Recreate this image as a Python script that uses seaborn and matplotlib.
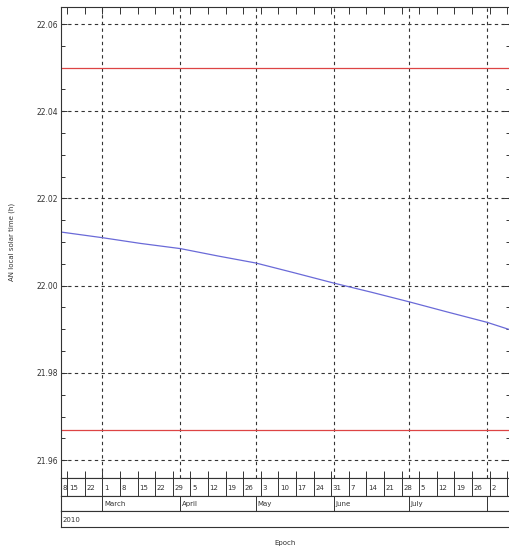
import numpy as np
import pandas as pd
import matplotlib
matplotlib.use("Agg")
import matplotlib.pyplot as plt
import matplotlib.dates as mdates
import seaborn as sns

# ---- data ----
sample_dates = ["2010-02-12 12:00", "2010-03-01 00:00", "2010-03-16 00:00", "2010-04-01 00:00",
                "2010-04-16 00:00", "2010-05-01 00:00", "2010-05-16 00:00", "2010-06-01 00:00",
                "2010-06-16 00:00", "2010-07-01 00:00", "2010-07-16 00:00", "2010-08-01 00:00",
                "2010-08-10 03:00"]
an_lst = [22.0123, 22.0110, 22.0097, 22.0085, 22.0068, 22.0052, 22.0030, 22.0006,
          21.9985, 21.9963, 21.9940, 21.9916, 21.9899]
limit_upper = 22.050
limit_lower = 21.967
y_ticks = [21.96, 21.98, 22.00, 22.02, 22.04, 22.06]
y_tick_labels = ["21.96", "21.98", "22.00", "22.02", "22.04", "22.06"]
month_starts = ["2010-02-01", "2010-03-01", "2010-04-01", "2010-05-01",
                "2010-06-01", "2010-07-01", "2010-08-01"]
month_labels = ["February", "March", "April", "May", "June", "July", "August"]
year_starts = ["2010-01-01"]
year_labels = ["2010"]
week_starts = pd.date_range("2010-02-08", "2010-08-09", freq="W-MON")
week_labels = [str(d.day) for d in week_starts]
x_start = pd.Timestamp("2010-02-12 12:00")
x_end = pd.Timestamp("2010-08-10 03:40")
y_min, y_max = 21.9559, 22.0639

W, H = 510, 549
sns.set_style("white")
plt.rcParams["font.family"] = ["DejaVu Sans"]

fig = plt.figure(figsize=(W / 100, H / 100), dpi=100)

def frac_box(x0, y0, x1, y1):
    return [x0 / W, (H - y1) / H, (x1 - x0) / W, (y1 - y0) / H]

ax = fig.add_axes(frac_box(61, 7, 510, 478))

df = pd.DataFrame({"date": pd.to_datetime(sample_dates, format="%Y-%m-%d %H:%M"), "lst": an_lst})
sns.lineplot(data=df, x="date", y="lst", ax=ax, color="#6a6ad8", linewidth=0.9)

lim_df = pd.DataFrame({"date": [x_start, x_end] * 2,
                       "lst": [limit_upper, limit_upper, limit_lower, limit_lower],
                       "which": ["upper", "upper", "lower", "lower"]})
sns.lineplot(data=lim_df, x="date", y="lst", units="which", estimator=None,
             ax=ax, color="#dd4444", linewidth=0.9)

ax.set_xlabel("")
ax.set_ylabel("")

# month grid lines
for m in pd.to_datetime(month_starts):
    if x_start < m < x_end:
        ax.axvline(m, color="#333333", linestyle=(0, (3, 3)), linewidth=0.8, zorder=0)
ax.set_yticks(y_ticks)
ax.set_yticklabels(y_tick_labels, fontsize=5.5, color="#333333")
ax.yaxis.set_minor_locator(matplotlib.ticker.MultipleLocator(0.005))
ax.grid(axis="y", which="major", color="#333333", linestyle=(0, (3, 3)), linewidth=0.8)
ax.set_axisbelow(True)

ax.set_xticks(week_starts)
ax.set_xlim(x_start, x_end)
ax.set_ylim(y_min, y_max)
ax.tick_params(axis="x", which="major", direction="in", length=5, width=0.7,
               top=True, bottom=True, labelbottom=False, color="#333333")
ax.tick_params(axis="y", which="major", direction="in", length=4, width=0.7,
               left=True, right=True, pad=2, color="#333333")
ax.tick_params(axis="y", which="minor", direction="in", length=3, width=0.7,
               left=True, right=True, color="#333333")
for s in ["left", "top", "bottom"]:
    ax.spines[s].set_color("#333333")
    ax.spines[s].set_linewidth(0.8)
ax.spines["right"].set_visible(False)

# ---- multi-row date axis below ----
# (top, bottom pixel rows, boundaries, labels, clamp first label, minimum days of room for a label)
rows = [
    (478, 496, week_starts, week_labels, True, 4),
    (496, 511, pd.to_datetime(month_starts), month_labels, False, 20),
    (511, 527, pd.to_datetime(year_starts), year_labels, True, 20),
]
for (y0, y1, starts, labels, clamp, room) in rows:
    rax = fig.add_axes(frac_box(61, y0, 510, y1))
    rax.set_xlim(x_start, x_end)
    rax.set_ylim(0, 1)
    rax.set_xticks([])
    rax.set_yticks([])
    for s in ["left", "top", "bottom"]:
        rax.spines[s].set_color("#333333")
        rax.spines[s].set_linewidth(0.8)
    rax.spines["right"].set_visible(False)
    for d, lab in zip(starts, labels):
        if x_start < d < x_end:
            rax.axvline(d, color="#333333", linewidth=0.7)
            pos = d
        elif clamp and d <= x_start:
            pos = x_start
        else:
            continue
        if (x_end - pos).days < room:
            continue
        rax.annotate(lab, xy=(mdates.date2num(pos), 0.45), xycoords="data",
                     xytext=(1.2, 0), textcoords="offset points",
                     ha="left", va="center", fontsize=5, color="#333333",
                     annotation_clip=False, clip_on=True)

fig.text(285 / W, 1 - 543 / H, "Epoch", ha="center", va="center", fontsize=5, color="#333333")
fig.text(12 / W, 1 - 242 / H, "AN local solar time (h)", rotation=90,
         ha="center", va="center", fontsize=5, color="#333333")

fig.savefig("out.png", dpi=100)
